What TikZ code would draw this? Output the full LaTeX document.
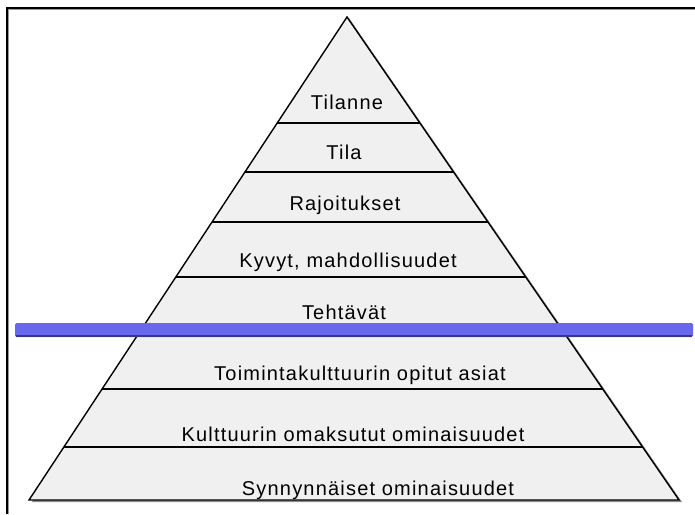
\documentclass[tikz,border=0pt]{standalone}
\usepackage{fontspec}
\setmainfont[LetterSpace=6]{Liberation Sans}
\usetikzlibrary{calc,positioning}
\definecolor{barblue}{RGB}{104,104,236}
\definecolor{pyrgray}{RGB}{240,240,240}

\begin{document}
\begin{tikzpicture}[x=1pt,y=-1pt,
    level/.style={              % Texts of the pyramid levels.
      font=\fontsize{20}{20}\selectfont,
      inner sep=0pt,
      anchor=base
    },
    divider/.style={            % Lines between the levels.
      line width=1.4pt
    },
    frameline/.style={          % Border of the picture.
      line width=2pt
    }]

    \useasboundingbox (0,0) rectangle (695,514);

    % Corners of the pyramid.
    \coordinate (apex) at (347,17);
    \coordinate (bl) at (29,500);
    \coordinate (br) at (679,500);

    % Frame on the left and on top.
    \draw[frameline] (7,514) -- (7,8) -- (695,8);
    \draw[black!40, line width=1pt] (8.5,514) -- (8.5,9.5) -- (695,9.5);

    % Shadow and body of the pyramid.
    \fill[black!45] ($(apex)+(2,1)$) -- ($(br)+(3,2)$) -- ($(bl)+(3,2)$) -- cycle;
    \filldraw[fill=pyrgray, draw=black, line width=1.4pt]
      (apex) -- (br) -- (bl) -- cycle;

    % Level dividers.
    \foreach \y in {123,172,222,277,389,447}
      \draw[divider] ($(apex)!{(\y-17)/483}!(bl)$) -- ($(apex)!{(\y-17)/483}!(br)$);

    % Level texts.
    \node[level] (tilanne)  at (347,109) {Tilanne};
    \node[level] (tila)     at (344,159) {Tila};
    \node[level] (rajoit)   at (345,210) {Rajoitukset};
    \node[level] (kyvyt)    at (348,267) {Kyvyt, mahdollisuudet};
    \node[level] (tehtavat) at (344,319) {Tehtävät};
    \node[level] (opitut)   at (360,380) {Toimintakulttuurin opitut asiat};
    \node[level] (omaks)    at (353,441) {Kulttuurin omaksutut ominaisuudet};
    \node[level] (synnyn)   at (378,495) {Synnynnäiset ominaisuudet};

    % Blue bar across the pyramid.
    \fill[barblue, rounded corners=1.5pt] (15,323) rectangle (693,337);
    \draw[barblue!55!black, line width=1.5pt] (16,336) -- (692,336);
\end{tikzpicture}
\end{document}
